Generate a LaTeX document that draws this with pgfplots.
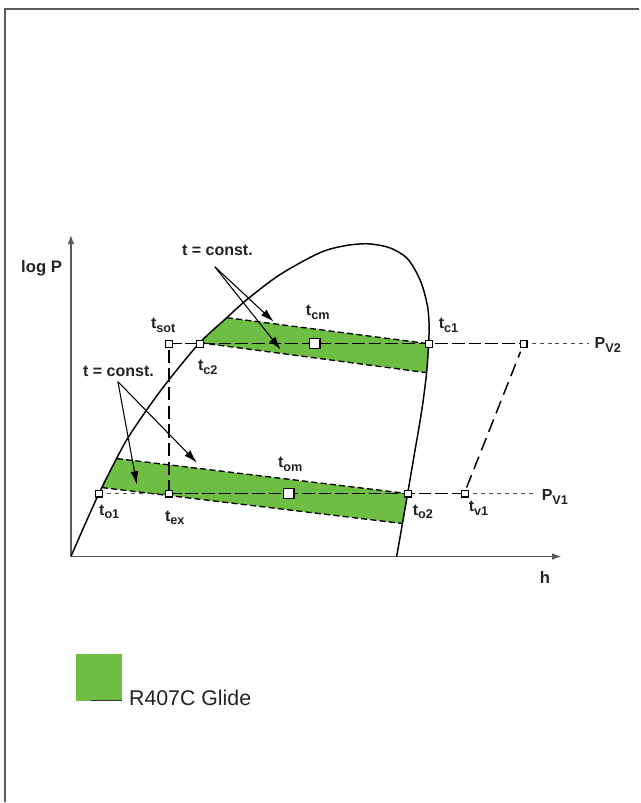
\documentclass[border=0pt]{standalone}
\usepackage{pgfplots}
\pgfplotsset{compat=1.18}
\usepackage{fontspec}
\setmainfont{Liberation Sans}
\usetikzlibrary{arrows.meta}
\definecolor{glide}{HTML}{6FBE44}
\definecolor{axgray}{HTML}{5A5A5A}
\definecolor{txt}{HTML}{222222}

% t with a lowered subscript, as in the figure
\newcommand{\ts}[2]{#1\raisebox{-2.6pt}{\fontsize{9.5}{10}\selectfont\bfseries #2}}
\tikzset{lbl/.style={anchor=base west, inner sep=0pt, text=txt, font=\fontsize{12}{14}\selectfont\bfseries}}

\begin{document}
\begin{tikzpicture}
\begin{axis}[
    width=480pt, height=602.25pt, scale only axis,
    xmin=0, xmax=640, ymin=0, ymax=803,
    y dir=reverse,
    hide axis,
    clip=false,
]
% keep the page the size of the reference
\addplot[draw=none] coordinates {(0,0) (640,803)};

% frame (only left and top edges are visible)
\addplot[axgray, line width=1.1pt] coordinates {(5,803) (5,9) (640,9)};

% glide bands
\addplot[fill=glide, draw=none] coordinates {(200,343) (227,318) (429,344) (428.5,358) (427,373)};
\addplot[fill=glide, draw=none] coordinates {(102,488) (117,459) (408,494) (405.5,509) (403,524)};

% band edges (lines of constant temperature)
\addplot[black, line width=1pt, dash pattern=on 4.5pt off 2.5pt] coordinates {(227,318) (429,344)};
\addplot[black, line width=1pt, dash pattern=on 4.5pt off 2.5pt] coordinates {(200,343) (427,373)};
\addplot[black, line width=1pt, dash pattern=on 4.5pt off 2.5pt] coordinates {(117,459) (408,494)};
\addplot[black, line width=1pt, dash pattern=on 4.5pt off 2.5pt] coordinates {(102,488) (403,524)};

% axes
\addplot[axgray, line width=1.1pt, -{Latex[length=7pt,width=5pt]}] coordinates {(71,557) (71,235)};
\addplot[axgray, line width=1.1pt, -{Latex[length=7pt,width=5pt]}] coordinates {(71,557) (562,557)};

% saturation dome
\addplot[black, line width=1.1pt, smooth, tension=0.5] coordinates {
  (71,557) (85,525) (99,494) (113,466) (127,440) (147,410) (170,379)
  (200,343) (227,318) (247,300) (280,275) (320,253) (345,246) (368,244)
  (390,248) (407,258) (417,273) (423,287) (428,307) (429.5,325) (429,344)
  (427,373) (423,405) (419,430) (415,453) (408,494) (403,523) (397,557)};

% pressure lines P_V2 and P_V1
\addplot[black, line width=1.1pt, dash pattern=on 9.5pt off 3pt] coordinates {(169,344) (524,344)};
\addplot[black!70, line width=0.7pt, dash pattern=on 3pt off 3pt] coordinates {(524,344) (590,344)};
\addplot[black!70, line width=0.7pt, dash pattern=on 3pt off 3pt] coordinates {(99,494) (169,494)};
\addplot[black, line width=1.1pt, dash pattern=on 9.5pt off 3pt] coordinates {(169,494) (465,494)};
\addplot[black!70, line width=0.7pt, dash pattern=on 3pt off 3pt] coordinates {(465,494) (533,494)};

% expansion and compression
\addplot[black, line width=1.1pt, dash pattern=on 10pt off 4pt] coordinates {(169,350) (169,494)};
\addplot[black, line width=1.1pt, dash pattern=on 10pt off 5pt] coordinates {(467,488) (521,352)};

% state points
\addplot[only marks, mark=square*, mark size=2.6pt, mark options={fill=white, draw=black, line width=0.8pt}]
  coordinates {(169,344) (200,344) (429,344) (524,344) (99,494) (169,494) (408,494) (465,494)};
\addplot[only marks, mark=square*, mark size=3.8pt, mark options={fill=white, draw=black, line width=1.1pt}]
  coordinates {(315,344) (289,494)};

% arrows from the "t = const." notes
\addplot[black, line width=0.8pt, -{Latex[length=10pt,width=6pt]}] coordinates {(215,267) (274,322)};
\addplot[black, line width=0.8pt, -{Latex[length=10pt,width=6pt]}] coordinates {(215,267) (281,350)};
\addplot[black, line width=0.8pt, -{Latex[length=10pt,width=6pt]}] coordinates {(118,382) (137,485)};
\addplot[black, line width=0.8pt, -{Latex[length=10pt,width=6pt]}] coordinates {(118,382) (197,463)};

% legend swatch
\addplot[fill=glide, draw=none] coordinates {(76,655) (122,655) (122,702) (76,702)};
\addplot[black!80, line width=0.8pt] coordinates {(91,701.5) (122,701.5)};

% labels
\node[lbl, font=\fontsize{12.5}{14}\selectfont\bfseries] at (axis cs:21,273) {log P};
\node[lbl, font=\fontsize{12.5}{14}\selectfont\bfseries] at (axis cs:540,584) {h};
\node[lbl] at (axis cs:182,256) {t = const.};
\node[lbl] at (axis cs:83,377) {t = const.};
\node[lbl] at (axis cs:151,329) {\ts{t}{sot}};
\node[lbl] at (axis cs:198,371) {\ts{t}{c2}};
\node[lbl] at (axis cs:306,316) {\ts{t}{cm}};
\node[lbl] at (axis cs:439,329) {\ts{t}{c1}};
\node[lbl] at (axis cs:595,349) {\ts{P}{V2}};
\node[lbl] at (axis cs:278,468) {\ts{t}{om}};
\node[lbl] at (axis cs:99,516) {\ts{t}{o1}};
\node[lbl] at (axis cs:165,522) {\ts{t}{ex}};
\node[lbl] at (axis cs:413,516) {\ts{t}{o2}};
\node[lbl] at (axis cs:469,512) {\ts{t}{v1}};
\node[lbl] at (axis cs:542,501) {\ts{P}{V1}};
\node[lbl, font=\fontsize{16}{18}\selectfont] at (axis cs:129,706) {R407C Glide};
\end{axis}
\end{tikzpicture}
\end{document}
